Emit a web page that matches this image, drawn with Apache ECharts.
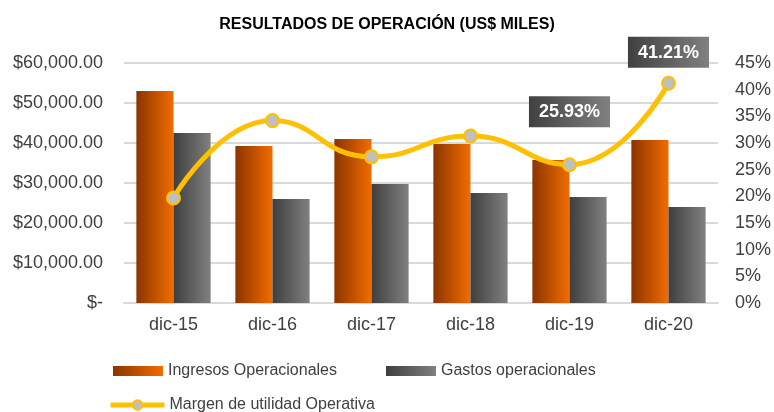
<!DOCTYPE html>
<html>
<head>
<meta charset="utf-8">
<script src="https://cdn.jsdelivr.net/npm/echarts@6/dist/echarts.min.js"></script>
<style>
  html, body { margin: 0; padding: 0; background: #fff; }
  #chart { width: 774px; height: 412px; }
</style>
</head>
<body>
<div id="chart"></div>
<script>
  // datos
  var categorias = ['dic-15', 'dic-16', 'dic-17', 'dic-18', 'dic-19', 'dic-20'];
  var ingresos = [53000, 39250, 41000, 39750, 35750, 40750];
  var gastos = [42500, 26000, 29750, 27500, 26500, 24000];
  var margen = [19.7, 34.2, 27.4, 31.3, 25.93, 41.21];
  var margenEtiquetas = ['', '', '', '', '25.93%', '41.21%'];
  var ticksIzq = ['$-', '$10,000.00', '$20,000.00', '$30,000.00', '$40,000.00', '$50,000.00', '$60,000.00'];

  var chart = echarts.init(document.getElementById('chart'));

  function grad(c1, c2) {
    return new echarts.graphic.LinearGradient(0, 0, 1, 0, [
      { offset: 0, color: c1 },
      { offset: 1, color: c2 }
    ]);
  }

  var fuente = 'Liberation Sans, Arial, sans-serif';

  // solo dic-19 y dic-20 llevan etiqueta
  var margenData = margen.map(function (v, i) {
    return { value: v, label: { show: margenEtiquetas[i] !== '' } };
  });

  var option = {
    animation: false,
    textStyle: { fontFamily: fuente },
    title: {
      text: 'RESULTADOS DE OPERACIÓN (US$ MILES)',
      left: 'center',
      top: 12,
      textStyle: { fontSize: 16, fontWeight: 'bold', color: '#000', fontFamily: fuente }
    },
    legend: [{
      data: ['Ingresos Operacionales', 'Gastos operacionales'],
      left: 108,
      top: 358,
      itemWidth: 50,
      itemHeight: 10,
      itemGap: 49,
      icon: 'rect',
      textStyle: { fontSize: 16, color: '#404040' }
    }, {
      data: ['Margen de utilidad Operativa'],
      left: 103,
      top: 392,
      itemWidth: 54,
      itemHeight: 12,
      lineStyle: { width: 5 },
      textStyle: { fontSize: 16, color: '#404040' }
    }],
    grid: { left: 124, right: 56, top: 63, bottom: 109 },
    xAxis: {
      type: 'category',
      data: categorias,
      axisTick: { show: false },
      axisLine: { lineStyle: { color: '#d9d9d9', width: 2 } },
      axisLabel: { fontSize: 18, color: '#404040', margin: 13 }
    },
    yAxis: [{
      type: 'value',
      min: 0,
      max: 60000,
      interval: 10000,
      axisLabel: {
        fontSize: 18,
        color: '#404040',
        margin: 21,
        formatter: function (v) { return ticksIzq[Math.round(v / 10000)]; }
      },
      splitLine: { lineStyle: { color: '#d9d9d9', width: 2 } }
    }, {
      type: 'value',
      min: 0,
      max: 45,
      interval: 5,
      axisLabel: {
        fontSize: 18,
        color: '#404040',
        margin: 17,
        formatter: '{value}%'
      },
      splitLine: { show: false }
    }],
    series: [{
      name: 'Ingresos Operacionales',
      type: 'bar',
      data: ingresos,
      barGap: '0%',
      barCategoryGap: '25%',
      itemStyle: { color: grad('#8a3500', '#f26c00') }
    }, {
      name: 'Gastos operacionales',
      type: 'bar',
      data: gastos,
      itemStyle: { color: grad('#3f3f3f', '#808080') }
    }, {
      name: 'Margen de utilidad Operativa',
      type: 'line',
      yAxisIndex: 1,
      data: margenData,
      smooth: 0.5,
      symbol: 'circle',
      symbolSize: 13,
      lineStyle: { color: '#ffc000', width: 5 },
      itemStyle: { color: '#bfbfbf', borderColor: '#ffc000', borderWidth: 2 },
      label: {
        position: 'top',
        formatter: function (p) { return margenEtiquetas[p.dataIndex]; },
        color: '#fff',
        fontSize: 18,
        fontWeight: 'bold',
        padding: [7, 10, 6, 10],
        backgroundColor: grad('#404040', '#808080')
      },
      labelLayout: function (p) {
        if (p.dataIndex === 4) return { dy: -25 };
        if (p.dataIndex === 5) return { dy: -3 };
        return {};
      }
    }]
  };

  chart.setOption(option);
</script>
</body>
</html>
